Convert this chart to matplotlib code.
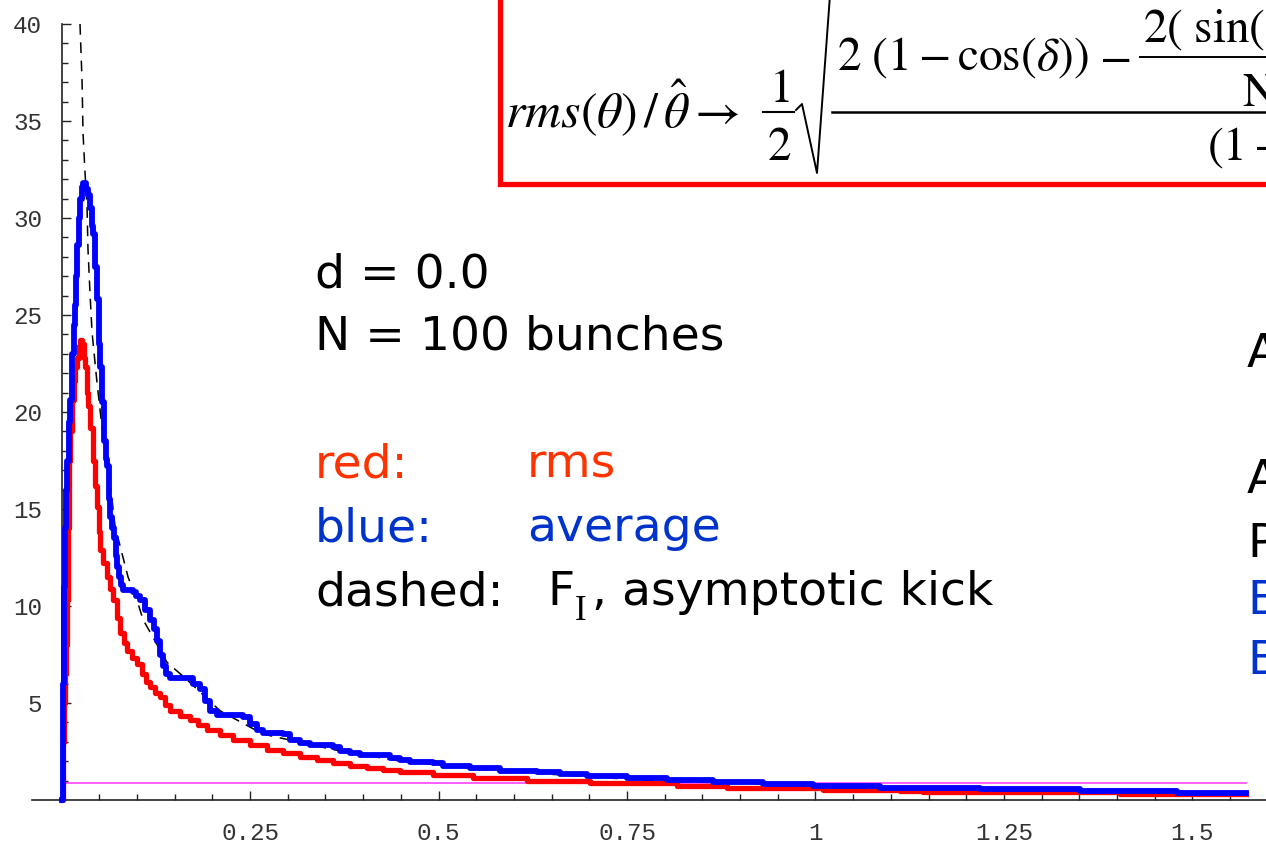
import matplotlib
matplotlib.use('Agg')
import matplotlib.pyplot as plt
from matplotlib.patches import Rectangle
from matplotlib.ticker import FixedLocator, FixedFormatter

# kick vs. angle theta (rad), d = 0.0, N = 100 bunches
# rms over bunches (red), stepwise
x_rms = [0.0, 0.002, 0.0033, 0.0046, 0.006, 0.0073, 0.0086, 0.0099, 0.0113, 0.014,
         0.0166, 0.0179, 0.0206, 0.0232, 0.0245, 0.0272, 0.0298, 0.0312, 0.0338, 0.0351,
         0.0378, 0.0418, 0.0444, 0.0471, 0.0497, 0.0511, 0.055, 0.0603, 0.0643, 0.0683,
         0.0736, 0.0776, 0.0829, 0.0869, 0.0935, 0.1001, 0.1068, 0.1121, 0.1174, 0.124,
         0.1306, 0.1373, 0.1439, 0.1572, 0.1704, 0.181, 0.193, 0.2102, 0.2275, 0.25,
         0.2727, 0.2938, 0.3164, 0.3389, 0.3601, 0.3826, 0.4052, 0.4264, 0.4489, 0.4927,
         0.5458, 0.6174, 0.7009, 0.8163, 0.8826, 1.0099, 1.1121, 1.1426, 1.4039, 1.5708]
y_rms = [0.0, 3.0, 5.0, 6.5, 8.0, 10.3, 14.0, 17.5, 19.0, 20.6,
         21.6, 22.3, 22.8, 23.4, 23.7, 23.5, 22.8, 22.3, 21.0, 20.3,
         19.2, 17.5, 16.2, 15.1, 13.8, 12.9, 12.2, 11.5, 10.9, 10.3,
         9.4, 8.6, 8.1, 7.7, 7.3, 7.0, 6.5, 6.1, 5.8, 5.5,
         5.3, 4.9, 4.6, 4.35, 4.1, 3.85, 3.6, 3.35, 3.1, 2.85,
         2.58, 2.4, 2.2, 2.05, 1.9, 1.77, 1.65, 1.55, 1.46, 1.29,
         1.12, 0.99, 0.86, 0.72, 0.6, 0.52, 0.46, 0.41, 0.31, 0.31]

# average over bunches (blue), stepwise
x_avg = [0.0, 0.002, 0.0033, 0.0046, 0.006, 0.0073, 0.0099, 0.0113, 0.014, 0.0166,
         0.0179, 0.0192, 0.0206, 0.0232, 0.0245, 0.0272, 0.0285, 0.0325, 0.0351, 0.0378,
         0.0405, 0.0418, 0.0444, 0.0471, 0.0497, 0.0511, 0.0537, 0.0564, 0.059, 0.0603,
         0.063, 0.0643, 0.067, 0.0696, 0.0723, 0.0736, 0.0762, 0.0789, 0.0816, 0.0948,
         0.0988, 0.1041, 0.1107, 0.1174, 0.1227, 0.1267, 0.1306, 0.1346, 0.1386, 0.1439,
         0.1744, 0.1837, 0.1903, 0.1969, 0.2062, 0.2407, 0.25, 0.2593, 0.2672, 0.2938,
         0.303, 0.3164, 0.3296, 0.3601, 0.3694, 0.3826, 0.3959, 0.4357, 0.4489, 0.4622,
         0.4927, 0.506, 0.5418, 0.5816, 0.6306, 0.6611, 0.6969, 0.75, 0.8031, 0.8641,
         0.9304, 0.9967, 1.0856, 1.2182, 1.3508, 1.4794, 1.5708]
y_avg = [0.0, 6.0, 11.0, 14.0, 16.0, 17.5, 19.5, 20.6, 23.0, 24.5,
         25.5, 27.0, 28.6, 30.0, 31.0, 31.6, 31.8, 31.5, 31.2, 30.5,
         29.6, 29.2, 27.5, 25.8, 23.5, 22.3, 20.5, 18.5, 17.6, 17.2,
         15.5, 14.6, 14.0, 13.5, 12.6, 12.0, 11.5, 11.1, 10.8, 10.7,
         10.5, 10.3, 9.8, 9.3, 8.8, 8.2, 7.5, 6.9, 6.5, 6.3,
         6.0, 5.7, 5.1, 4.6, 4.4, 4.3, 3.9, 3.6, 3.45, 3.4,
         3.1, 2.95, 2.83, 2.75, 2.55, 2.4, 2.3, 2.15, 2.06, 1.94,
         1.89, 1.77, 1.63, 1.49, 1.43, 1.34, 1.25, 1.12, 1.01, 0.93,
         0.82, 0.72, 0.64, 0.55, 0.46, 0.38, 0.38]

# F_I, asymptotic kick (dashed)
x_fi = [0.0245, 0.0272, 0.0285, 0.0312, 0.0338, 0.0351, 0.0378, 0.0405, 0.0471, 0.0537,
        0.0603, 0.071, 0.0882, 0.1001, 0.1081, 0.1399, 0.1664, 0.2102, 0.267, 0.36,
        0.45, 0.58, 0.78, 1.02, 1.35, 1.5708]
y_fi = [40.0, 37.1, 34.4, 32.3, 30.6, 28.4, 26.1, 24.1, 21.5, 19.2,
        17.7, 14.1, 11.5, 10.3, 9.3, 7.1, 6.2, 4.6, 3.4, 2.6,
        2.0, 1.5, 1.0, 0.72, 0.5, 0.4]

# flat reference level (magenta)
x_ref = [0.0, 1.5708]
y_ref = [0.9, 0.9]

xticks = [0.25, 0.5, 0.75, 1.0, 1.25, 1.5]
xtick_labels = ['0.25', '0.5', '0.75', '1', '1.25', '1.5']
xminor = [round(0.05 * i, 2) for i in range(1, 32) if i % 5 != 0]
yticks = [5, 10, 15, 20, 25, 30, 35, 40]
ytick_labels = ['5', '10', '15', '20', '25', '30', '35', '40']
yminor = [v for v in range(1, 40) if v % 5 != 0]

plt.rcParams['mathtext.fontset'] = 'stix'

fig = plt.figure(figsize=(12.66, 8.43), dpi=100)
ax = fig.add_axes([0, 0, 1, 1])
ax.set_xlim(-0.0816, 1.5975)
ax.set_ylim(-2.216, 41.237)
ax.patch.set_visible(False)

# mathematica style axes crossing at the origin
for side in ['top', 'right']:
    ax.spines[side].set_visible(False)
ax.spines['left'].set_position(('data', 0))
ax.spines['bottom'].set_position(('data', 0))
ax.spines['left'].set_bounds(0, 40)
ax.spines['bottom'].set_bounds(-0.039, 1.6)
for side in ['left', 'bottom']:
    ax.spines[side].set_color('#222222')
    ax.spines[side].set_linewidth(1.2)

ax.xaxis.set_major_locator(FixedLocator(xticks))
ax.xaxis.set_major_formatter(FixedFormatter(xtick_labels))
ax.xaxis.set_minor_locator(FixedLocator(xminor))
ax.yaxis.set_major_locator(FixedLocator(yticks))
ax.yaxis.set_major_formatter(FixedFormatter(ytick_labels))
ax.yaxis.set_minor_locator(FixedLocator(yminor))
ax.tick_params(which='major', direction='in', length=6.5, width=1, color='#222222')
ax.tick_params(which='minor', direction='in', length=4, width=1, color='#222222')
ax.tick_params(axis='x', which='major', pad=16, labelsize=17.5, labelcolor='#333333')
ax.tick_params(axis='y', which='major', pad=14, labelsize=17.5, labelcolor='#333333')
for lab in ax.get_xticklabels() + ax.get_yticklabels():
    lab.set_family('Liberation Mono')

ax.plot(x_ref, y_ref, color='#FF33FF', lw=1.1, zorder=1)
ax.plot(x_fi, y_fi, color='black', lw=1.1, dashes=(7, 5), zorder=2)
ax.plot(x_rms, y_rms, color='#FF0000', lw=3.8, drawstyle='steps-post', zorder=3)
ax.plot(x_avg, y_avg, color='#0000FF', lw=4.2, drawstyle='steps-post', zorder=4)

# text layer in pixel coordinates
ov = fig.add_axes([0, 0, 1, 1])
ov.set_xlim(0, 1266)
ov.set_ylim(843, 0)
ov.axis('off')
ov.patch.set_visible(False)

big = dict(fontsize=34, family='DejaVu Sans', va='baseline')
ov.text(315, 287, 'd = 0.0', color='black', **big)
ov.text(315, 350, 'N = 100 bunches', color='black', **big)
ov.text(315, 478, 'red:', color='#FF3300', **big)
ov.text(527, 478, 'rms', color='#FF3300', **big)
ov.text(315, 541, 'blue:', color='#0033CC', **big)
ov.text(527, 541, 'average', color='#0033CC', **big)
ov.text(315, 605, 'dashed:', color='black', **big)
ov.text(547, 605, 'F', color='black', **big)
ov.text(575, 620, 'I', color='black', fontsize=25, family='Liberation Serif', va='baseline')
ov.text(592, 605, ', asymptotic kick', color='black', **big)

ov.text(1247, 367, 'A', color='black', **big)
ov.text(1247, 493, 'A', color='black', **big)
ov.text(1247, 557, 'P', color='black', **big)
ov.text(1247, 614, 'B', color='#0033CC', **big)
ov.text(1247, 674, 'B', color='#0033CC', **big)

# formula box
ov.add_patch(Rectangle((500, -20), 800, 204, fill=False, edgecolor='#FF0000', lw=3.8))
fm = dict(fontsize=34, va='baseline', color='black')
ov.text(505, 128, r'$rms(\theta)\,/\,\hat{\theta}\rightarrow$', fontsize=36, va='baseline')
ov.text(779, 102, r'$1$', ha='center', **fm)
ov.text(779, 160, r'$2$', ha='center', **fm)
ov.plot([763, 794], [112, 112], color='black', lw=1.5)
ov.plot([796, 802, 817, 830], [110, 104, 173, -5], color='black', lw=1.4)
ov.plot([832, 1270], [112, 112], color='black', lw=1.8)
ov.text(837, 70, r'$2\ (1-\cos(\delta))$', **fm)
ov.text(1099, 70, r'$-$', **fm)
ov.plot([1140, 1270], [57, 57], color='black', lw=1.4)
ov.text(1143, 42, r'$2(\ \sin($', **fm)
ov.text(1242, 106, r'$\mathrm{N}$', **fm)
ov.text(1207, 160, r'$(1-$', **fm)

fig.savefig('out.png', dpi=100)
